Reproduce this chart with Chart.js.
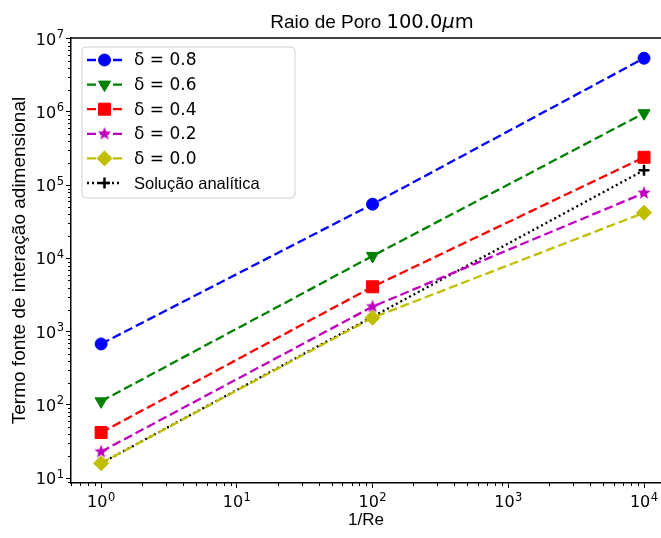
<!DOCTYPE html>
<html>
<head>
<meta charset="utf-8">
<script src="https://cdn.jsdelivr.net/npm/chart.js@4"></script>
<style>
  html, body { margin: 0; padding: 0; background: #fff; }
</style>
</head>
<body>
<canvas id="chart" width="661" height="538"></canvas>
<script>
// data (log-log)
const invRe     = [1, 100, 10000];
const delta08   = [680, 55000, 5.4e6];
const delta06   = [112, 10800, 9.6e5];
const delta04   = [42, 4100, 2.4e5];
const delta02   = [23, 2200, 7.8e4];
const delta00   = [16, 1550, 4.2e4];
const analitica = [16, 1600, 1.6e5];
const seriesLabels = ['δ = 0.8', 'δ = 0.6', 'δ = 0.4', 'δ = 0.2', 'δ = 0.0', 'Solução analítica'];
const xTicks = [1, 10, 100, 1000, 10000];
const yTicks = [10, 100, 1e3, 1e4, 1e5, 1e6, 1e7];

// minor ticks 2..9 x 10^n inside a range
function minors(lo, hi) {
  const out = [];
  for (let e = Math.floor(Math.log10(lo)); e <= Math.ceil(Math.log10(hi)); e++) {
    for (let m = 2; m <= 9; m++) {
      const v = m * Math.pow(10, e);
      if (v >= lo && v <= hi) out.push(v);
    }
  }
  return out;
}

// filled star marker like matplotlib '*'
function starMarker(color, r) {
  const c = document.createElement('canvas');
  c.width = c.height = Math.ceil(r * 2 + 2);
  const g = c.getContext('2d');
  const cx = c.width / 2, cy = c.height / 2;
  g.beginPath();
  for (let i = 0; i < 10; i++) {
    const rr = i % 2 === 0 ? r : r * 0.42;
    const a = -Math.PI / 2 + i * Math.PI / 5;
    g.lineTo(cx + rr * Math.cos(a), cy + rr * Math.sin(a));
  }
  g.closePath();
  g.fillStyle = color;
  g.fill();
  return c;
}

const toPts = ys => invRe.map((x, i) => ({ x, y: ys[i] }));
const DASH = [9, 4];

const datasets = [
  { label: seriesLabels[0], data: toPts(delta08), color: '#0000ff', pointStyle: 'circle', pointRadius: 6, borderDash: DASH },
  { label: seriesLabels[1], data: toPts(delta06), color: '#008000', pointStyle: 'triangle', pointRotation: 180, pointRadius: 7, borderDash: DASH },
  { label: seriesLabels[2], data: toPts(delta04), color: '#ff0000', pointStyle: 'rect', pointRadius: 8.5, borderDash: DASH },
  { label: seriesLabels[3], data: toPts(delta02), color: '#bf00bf', pointStyle: starMarker('#bf00bf', 7), pointRadius: 6, borderDash: DASH },
  { label: seriesLabels[4], data: toPts(delta00), color: '#bfbf00', pointStyle: 'rectRot', pointRadius: 7.5, borderDash: DASH },
  { label: seriesLabels[5], data: toPts(analitica), color: '#000000', pointStyle: 'cross', pointRadius: 5.5, borderDash: [2, 3], pointBorderWidth: 2.5 }
].map(d => ({
  label: d.label,
  data: d.data,
  borderColor: d.color,
  backgroundColor: d.color,
  pointBackgroundColor: d.color,
  pointBorderColor: d.color,
  pointBorderWidth: d.pointBorderWidth || 1,
  pointStyle: d.pointStyle,
  pointRotation: d.pointRotation || 0,
  pointRadius: d.pointRadius,
  pointHoverRadius: d.pointRadius,
  borderWidth: 2.3,
  borderDash: d.borderDash,
  tension: 0,
  fill: false
}));

// draws "10" with a raised exponent
function powerLabel(ctx, v, x, y, align) {
  const base = '10', exp = String(Math.round(Math.log10(v)));
  ctx.font = '16px "DejaVu Sans"';
  const wb = ctx.measureText(base).width;
  ctx.font = '11.5px "DejaVu Sans"';
  const we = ctx.measureText(exp).width;
  const w = wb + we + 0.5;
  const x0 = align === 'right' ? x - w : x - w / 2;
  ctx.textAlign = 'left';
  ctx.textBaseline = 'alphabetic';
  ctx.font = '16px "DejaVu Sans"';
  ctx.fillText(base, x0, y);
  ctx.font = '11.5px "DejaVu Sans"';
  ctx.fillText(exp, x0 + wb + 0.5, y - 6.5);
}

// title, top spine, tick labels, minor ticks and a matplotlib-like legend
const axesExtras = {
  id: 'axesExtras',
  afterDraw(chart) {
    const { ctx, chartArea: a, scales } = chart;
    ctx.save();
    ctx.fillStyle = '#000';
    ctx.strokeStyle = '#000';
    ctx.lineWidth = 1;

    // title with mixed fonts (the original is cropped on the right, so its centre sits a bit right)
    const parts = [
      ['Raio de Poro ', '19px "Liberation Sans"'],
      ['100.0', '19.5px "DejaVu Sans"'],
      ['μ', 'italic 19.5px "DejaVu Sans"'],
      ['m', '19.5px "DejaVu Sans"']
    ];
    let tw = 0;
    parts.forEach(p => { ctx.font = p[1]; tw += ctx.measureText(p[0]).width; });
    let tx = (a.left + a.right) / 2 + 6 - tw / 2;
    ctx.textBaseline = 'alphabetic';
    ctx.textAlign = 'left';
    parts.forEach(p => { ctx.font = p[1]; ctx.fillText(p[0], tx, 28); tx += ctx.measureText(p[0]).width; });

    // tick labels
    xTicks.forEach(v => powerLabel(ctx, v, scales.x.getPixelForValue(v), a.bottom + 24, 'center'));
    yTicks.forEach(v => powerLabel(ctx, v, a.left - 7, scales.y.getPixelForValue(v) + 6, 'right'));

    // minor ticks
    minors(scales.x.min, scales.x.max).forEach(v => {
      const px = Math.round(scales.x.getPixelForValue(v)) + 0.5;
      ctx.beginPath(); ctx.moveTo(px, a.bottom); ctx.lineTo(px, a.bottom + 3); ctx.stroke();
    });
    minors(scales.y.min, scales.y.max).forEach(v => {
      const py = Math.round(scales.y.getPixelForValue(v)) + 0.5;
      ctx.beginPath(); ctx.moveTo(a.left - 3, py); ctx.lineTo(a.left, py); ctx.stroke();
    });
    // top spine only (right spine lies outside the cropped original)
    ctx.lineWidth = 1.5;
    ctx.beginPath(); ctx.moveTo(a.left, a.top); ctx.lineTo(chart.width, a.top); ctx.stroke();

    // legend
    const lx = a.left + 11, ly = a.top + 9, lw = 213, lh = 151;
    ctx.beginPath();
    ctx.roundRect(lx, ly, lw, lh, 4);
    ctx.fillStyle = 'rgba(255,255,255,0.8)';
    ctx.fill();
    ctx.strokeStyle = '#d0d0d0';
    ctx.lineWidth = 1;
    ctx.stroke();
    chart.data.datasets.forEach((ds, i) => {
      const y = ly + 13 + i * 24.6;
      const x0 = lx + 5, x1 = lx + 40;
      ctx.save();
      ctx.strokeStyle = ds.borderColor;
      ctx.lineWidth = ds.borderWidth;
      ctx.setLineDash(ds.borderDash);
      ctx.beginPath(); ctx.moveTo(x0, y); ctx.lineTo(x1, y); ctx.stroke();
      ctx.setLineDash([]);
      ctx.fillStyle = ds.pointBackgroundColor;
      ctx.strokeStyle = ds.pointBorderColor;
      ctx.lineWidth = ds.pointBorderWidth;
      Chart.helpers.drawPoint(ctx, {
        pointStyle: ds.pointStyle, rotation: ds.pointRotation, radius: ds.pointRadius, borderWidth: ds.pointBorderWidth
      }, (x0 + x1) / 2, y);
      ctx.restore();
      ctx.fillStyle = '#000';
      ctx.textBaseline = 'middle';
      ctx.textAlign = 'left';
      ctx.font = i < 5 ? '17px "DejaVu Sans"' : '16.5px "Liberation Sans"';
      ctx.fillText(ds.label, lx + 52, y + 1);
    });
    ctx.restore();
  }
};

const axisBase = {
  type: 'logarithmic',
  grid: { drawOnChartArea: false, tickLength: 5, color: '#000', tickColor: '#000', tickWidth: 1 },
  border: { display: true, color: '#000', width: 1.5 },
  ticks: { display: false, autoSkip: false, maxRotation: 0 }
};

new Chart(document.getElementById('chart'), {
  type: 'line',
  data: { datasets },
  options: {
    responsive: false,
    devicePixelRatio: 1,
    animation: false,
    layout: { autoPadding: false, padding: { left: 0, right: 0, top: 38, bottom: 0 } },
    plugins: {
      legend: { display: false },
      tooltip: { enabled: false },
      title: { display: false }
    },
    scales: {
      x: {
        ...axisBase,
        min: 0.628, max: 13340,
        afterBuildTicks: s => { s.ticks = xTicks.map(v => ({ value: v, major: true })); },
        afterFit: s => { s.height = 55; },
        title: { display: true, text: '1/Re', color: '#000', font: { family: 'Liberation Sans', size: 17 }, padding: { top: 4, bottom: 7 } }
      },
      y: {
        ...axisBase,
        min: 8.6, max: 1.02e7,
        afterBuildTicks: s => { s.ticks = yTicks.map(v => ({ value: v, major: true })); },
        afterFit: s => { s.width = 71; },
        title: { display: true, text: 'Termo fonte de interação adimensional', color: '#000', font: { family: 'Liberation Sans', size: 19 }, padding: { top: 8, bottom: 0 } }
      }
    }
  },
  plugins: [axesExtras]
});
</script>
</body>
</html>
